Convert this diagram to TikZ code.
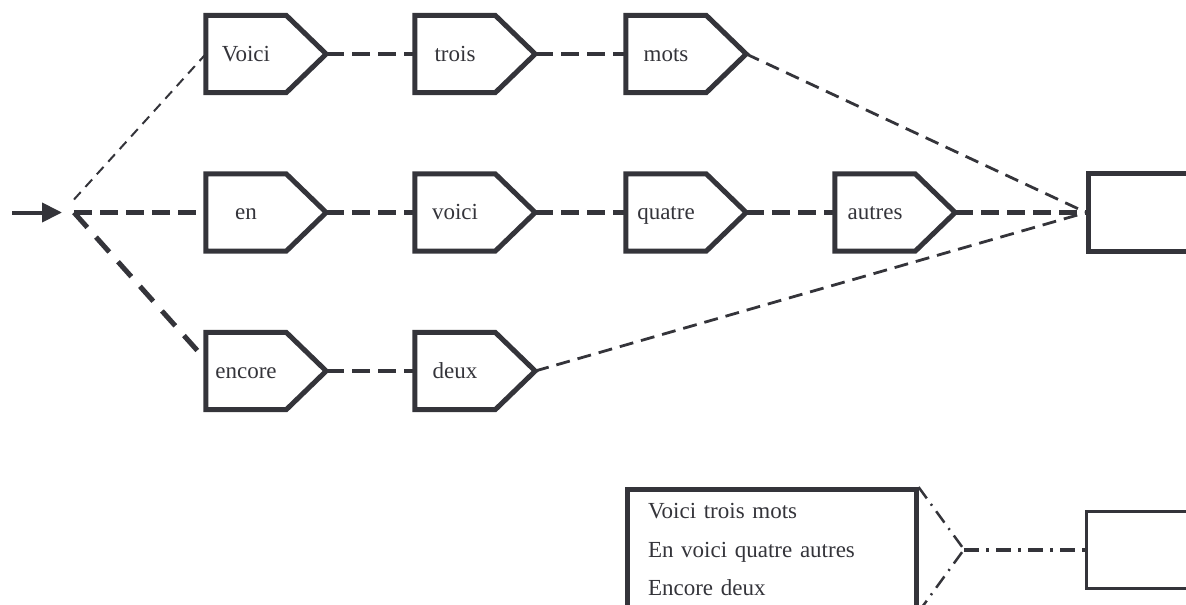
\documentclass[tikz,border=0pt]{standalone}
\usepackage{fontspec}
\setmainfont{Liberation Serif}
\usetikzlibrary{arrows.meta}
\definecolor{ink}{RGB}{52,52,58}
\begin{document}
\begin{tikzpicture}[x=1pt,y=-1pt,
  every node/.style={font=\fontsize{23}{28}\selectfont, text=ink},
  % rectangular body of a word tile; the pointed end is added afterwards
  wordbody/.style={minimum width=80pt, minimum height=77pt, inner sep=0pt,
    text height=16pt, text depth=2pt},
  tileline/.style={draw=ink, line width=5pt, line join=miter},
  sinkbox/.style={draw=ink, line width=5pt, minimum width=120pt, minimum height=78pt, inner sep=0pt},
  thinsink/.style={draw=ink, line width=3pt, minimum width=120pt, minimum height=77pt, inner sep=0pt},
  listbox/.style={draw=ink, line width=5pt, minimum width=289pt, minimum height=120pt,
    inner xsep=21pt, inner ysep=0pt, text width=247pt, align=left,
    font=\fontsize{23}{38.5}\selectfont},
  heavydash/.style={draw=ink, line width=4.5pt, dash pattern=on 18pt off 8pt},
  widedash/.style={draw=ink, line width=5pt, dash pattern=on 20pt off 13pt},
  lightdash/.style={draw=ink, line width=2.8pt, dash pattern=on 14pt off 8pt},
  faintdash/.style={draw=ink, line width=2pt, dash pattern=on 10pt off 7pt},
  thindashdot/.style={draw=ink, line width=2.5pt, dash pattern=on 14pt off 7pt on 2pt off 7pt},
  heavydashdot/.style={draw=ink, line width=4pt, dash pattern=on 15pt off 7pt on 3pt off 7pt},
  feed/.style={draw=ink, line width=4pt, -{Triangle[length=20pt,width=19pt]}}
]
\useasboundingbox (0,0) rectangle (1186,605);
\clip (0,0) rectangle (1186,605);

% word tiles
\node[wordbody] (voici1) at (246,54)  {Voici};
\node[wordbody] (trois)  at (455,54)  {trois};
\node[wordbody] (mots)   at (666,54)  {mots};
\node[wordbody] (en)     at (246,212.5) {en};
\node[wordbody] (voici2) at (455,212.5) {voici};
\node[wordbody] (quatre) at (666,212.5) {quatre};
\node[wordbody] (autres) at (875,212.5) {autres};
\node[wordbody] (encore) at (246,371) {encore};
\node[wordbody] (deux)   at (455,371) {deux};

\foreach \n in {voici1,trois,mots,en,voici2,quatre,autres,encore,deux}{
  \coordinate (\n-tip) at ([xshift=40pt]\n.east);
  \draw[tileline] (\n.north west) -- (\n.north east) -- (\n-tip)
    -- (\n.south east) -- (\n.south west) -- cycle;
}

% sinks
\node[sinkbox] (sink) at (1148.7,212.5) {};
\node[thinsink] (sink2) at (1146.5,549.5) {};

% entry point
\coordinate (feedstart) at (12,212.5);
\coordinate (feedend) at (62,212.5);
\coordinate (fork) at (74,212.5);
\coordinate (forkup) at (74,199.5);
\draw[feed] (feedstart) -- (feedend);

\draw[faintdash] (forkup) -- (voici1.west);
\draw[heavydash] (fork) -- (en.west);
\draw[widedash] (fork) -- ([yshift=11pt]encore.west);

% chains
\draw[heavydash] (voici1-tip) -- (trois.west);
\draw[heavydash] (trois-tip) -- (mots.west);
\draw[heavydash] (en-tip) -- (voici2.west);
\draw[heavydash] (voici2-tip) -- (quatre.west);
\draw[heavydash] (quatre-tip) -- (autres.west);
\draw[heavydash] (encore-tip) -- (deux.west);

% into the sink
\draw[lightdash] (mots-tip) -- (sink.west);
\draw[heavydash] (autres-tip) -- (sink.west);
\draw[lightdash] (deux-tip) -- (sink.west);

% sentence list
\node[listbox] (list) at (771.5,549.5) {Voici trois mots\\En voici quatre autres\\Encore deux};
\coordinate (merge) at (964,549.5);
\draw[thindashdot] (list.north east) -- (merge);
\draw[thindashdot] (list.south east) -- (merge);
\draw[heavydashdot] (merge) -- (sink2.west);
\end{tikzpicture}
\end{document}
